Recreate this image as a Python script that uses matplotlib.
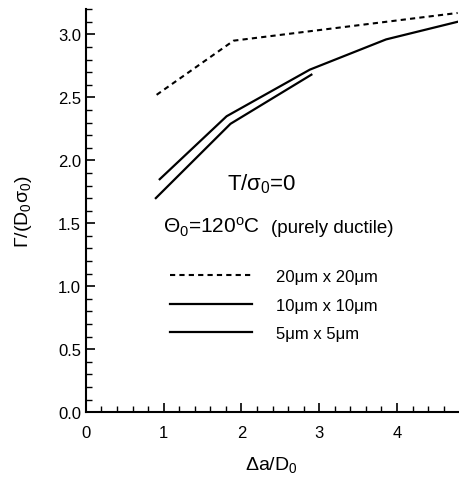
import numpy as np
import matplotlib.pyplot as plt
from matplotlib.ticker import MultipleLocator

plt.rcParams['font.family'] = ['Liberation Sans', 'DejaVu Sans']
plt.rcParams['mathtext.fontset'] = 'custom'
plt.rcParams['mathtext.rm'] = 'Liberation Sans'
plt.rcParams['mathtext.it'] = 'Liberation Sans'

# curves
x20 = [0.91, 1.90, 4.78]
y20 = [2.52, 2.95, 3.17]

x10 = [0.95, 1.81, 2.88, 3.86, 4.78]
y10 = [1.85, 2.35, 2.72, 2.96, 3.10]

x5 = [0.90, 1.86, 2.90]
y5 = [1.70, 2.29, 2.68]

labels = ['20\u03bcm x 20\u03bcm', '10\u03bcm x 10\u03bcm', '5\u03bcm x 5\u03bcm']

fig = plt.figure(figsize=(4.59, 4.85), dpi=100)
ax = fig.add_axes([0.187, 0.148, 0.81, 0.831])

ax.plot(x20, y20, color='k', lw=1.5, linestyle=(0, (2.5, 2)), label=labels[0])
ax.plot(x10, y10, color='k', lw=1.6, label=labels[1])
ax.plot(x5, y5, color='k', lw=1.6, label=labels[2])

ax.set_xlim(0, 4.78)
ax.set_ylim(0, 3.2)
ax.xaxis.set_major_locator(MultipleLocator(1))
ax.xaxis.set_minor_locator(MultipleLocator(0.2))
ax.yaxis.set_major_locator(MultipleLocator(0.5))
ax.yaxis.set_minor_locator(MultipleLocator(0.1))
ax.yaxis.set_major_formatter(plt.FormatStrFormatter('%.1f'))
ax.tick_params(which='major', direction='in', length=6.5, width=1.2, labelsize=12)
ax.tick_params(which='minor', direction='in', length=4, width=1)
ax.tick_params(axis='x', which='major', pad=9)
ax.spines['top'].set_visible(False)
ax.spines['right'].set_visible(False)
ax.spines['left'].set_linewidth(1.5)
ax.spines['bottom'].set_linewidth(1.5)

ax.set_xlabel(r'$\Delta$a/D$_0$', fontsize=14, labelpad=10)
ax.set_ylabel(r'$\Gamma$/(D$_0\sigma_0$)', fontsize=14, labelpad=17)

ax.text(1.82, 1.77, r'T/$\sigma_0$=0', fontsize=16)
ax.text(0.99, 1.43, r'$\Theta_0$=120$^{\rm o}$C', fontsize=15)
ax.text(2.38, 1.43, '(purely ductile)', fontsize=13.5)

ax.legend(loc='upper left', bbox_to_anchor=(0.187, 0.392), frameon=False,
          fontsize=12, handlelength=4.9, handletextpad=1.44, labelspacing=0.8)

fig.savefig('out.png', dpi=100)
